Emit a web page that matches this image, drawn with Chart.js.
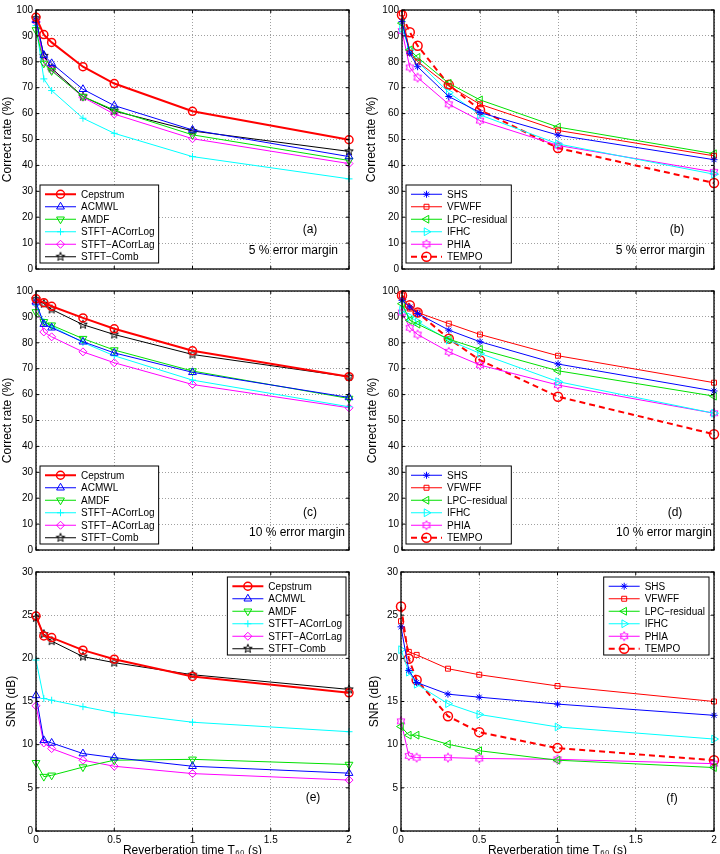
<!DOCTYPE html>
<html>
<head>
<meta charset="utf-8">
<script src="https://cdn.jsdelivr.net/npm/chart.js@4.4.1/dist/chart.umd.min.js"></script>
<style>
  html, body { margin: 0; padding: 0; background: #fff; width: 720px; height: 854px; overflow: hidden; }
  canvas { position: absolute; }
</style>
</head>
<body>
<canvas id="pa" style="left:0;top:0" width="360" height="285"></canvas>
<canvas id="pb" style="left:360px;top:0" width="360" height="285"></canvas>
<canvas id="pc" style="left:0;top:281px" width="360" height="285"></canvas>
<canvas id="pd" style="left:360px;top:281px" width="360" height="285"></canvas>
<canvas id="pe" style="left:0;top:562px" width="360" height="300"></canvas>
<canvas id="pf" style="left:360px;top:562px" width="360" height="300"></canvas>
<script>
// Reverberation time T60 (s), shared by every panel
const rt = [0, 0.05, 0.1, 0.3, 0.5, 1, 2];

const leftNames = ["Cepstrum", "ACMWL", "AMDF", "STFT\u2212ACorrLog", "STFT\u2212ACorrLag", "STFT\u2212Comb"];
const rightNames = ["SHS", "VFWFF", "LPC\u2212residual", "IFHC", "PHIA", "TEMPO"];

// (a) correct rate, 5 % error margin
const cepA = [97.2, 90.5, 87.5, 78.1, 71.6, 60.9, 49.9];
const acmA = [96.0, 82.6, 79.4, 69.4, 63.1, 53.7, 43.4];
const amdA = [92.3, 79.4, 76.5, 66.6, 61.4, 51.8, 41.9];
const logA = [94.0, 73.4, 68.9, 58.2, 52.4, 43.4, 34.8];
const lagA = [95.5, 80.0, 76.9, 66.3, 59.8, 50.3, 40.7];
const combA = [96.8, 82.3, 77.5, 66.6, 61.0, 53.3, 45.4];

// (b) correct rate, 5 % error margin
const shsB = [95.5, 83.3, 78.1, 66.6, 60.4, 51.7, 42.2];
const vfwB = [98.7, 83.5, 80.1, 70.7, 63.6, 53.5, 43.7];
const lpcB = [94.9, 84.6, 81.7, 71.7, 65.3, 54.8, 44.5];
const ifhB = [92.9, 84.6, 80.1, 68.1, 59.5, 48.3, 36.6];
const phiB = [91.9, 77.8, 73.9, 63.6, 57.3, 47.7, 37.5];
const tmpB = [98.1, 91.4, 86.2, 71.1, 61.4, 46.7, 33.2];

// (c) correct rate, 10 % error margin
const cepC = [97.0, 95.5, 94.1, 89.6, 85.4, 76.9, 66.9];
const acmC = [95.8, 87.2, 85.8, 80.4, 76.1, 68.6, 58.9];
const amdC = [91.9, 88.1, 86.8, 81.6, 77.2, 69.1, 58.5];
const logC = [94.5, 88.1, 86.4, 80.1, 75.0, 65.6, 55.3];
const lagC = [95.1, 84.2, 82.3, 76.5, 72.3, 63.9, 54.9];
const combC = [96.8, 95.1, 92.9, 87.0, 83.2, 75.5, 66.9];

// (d) correct rate, 10 % error margin
const shsD = [96.4, 93.8, 91.3, 84.9, 80.4, 71.8, 61.4];
const vfwD = [98.3, 93.2, 91.7, 87.4, 83.2, 75.0, 64.6];
const lpcD = [95.1, 88.7, 87.2, 81.4, 77.5, 69.2, 59.4];
const ifhD = [92.6, 90.0, 88.1, 81.0, 75.9, 65.0, 52.8];
const phiD = [91.7, 85.8, 83.2, 76.5, 71.4, 63.7, 52.8];
const tmpD = [98.3, 94.5, 91.7, 81.6, 73.3, 59.2, 44.7];

// (e) SNR (dB)
const cepE = [24.9, 22.6, 22.4, 20.95, 19.9, 17.9, 16.0];
const acmE = [15.7, 10.5, 10.2, 8.97, 8.5, 7.5, 6.7];
const amdE = [7.9, 6.3, 6.45, 7.4, 8.2, 8.3, 7.7];
const logE = [19.8, 15.35, 15.15, 14.4, 13.7, 12.6, 11.5];
const lagE = [14.5, 10.2, 9.55, 8.2, 7.5, 6.65, 5.9];
const combE = [24.7, 22.8, 22.0, 20.2, 19.5, 18.1, 16.4];

// (f) SNR (dB)
const shsF = [23.65, 18.6, 17.2, 15.85, 15.5, 14.7, 13.4];
const vfwF = [24.3, 20.75, 20.4, 18.8, 18.1, 16.8, 15.0];
const lpcF = [12.1, 11.1, 11.1, 10.05, 9.3, 8.2, 7.35];
const ifhF = [21.0, 18.4, 17.0, 14.75, 13.5, 12.05, 10.65];
const phiF = [12.7, 8.7, 8.5, 8.5, 8.4, 8.3, 7.8];
const tmpF = [26.0, 19.95, 17.5, 13.3, 11.45, 9.6, 8.2];

Chart.defaults.font.family = '"Liberation Sans", Arial, sans-serif';
Chart.defaults.color = "#000";

const RED = "#ff0000", BLUE = "#0000ff", GREEN = "#00e000", CYAN = "#00ffff", MAGENTA = "#ff00ff", BLACK = "#000000";

// outline star markers (pentagram / hexagram) as small canvases
function starMarker(n, inner, color, r) {
  const c = document.createElement("canvas");
  const s = Math.ceil(r * 2 + 3);
  c.width = s; c.height = s;
  const g = c.getContext("2d");
  g.strokeStyle = color;
  g.lineWidth = 1;
  g.beginPath();
  for (let i = 0; i < 2 * n; i++) {
    const rr = i % 2 ? r * inner : r;
    const ang = -Math.PI / 2 + i * Math.PI / n;
    const px = s / 2 + rr * Math.cos(ang), py = s / 2 + rr * Math.sin(ang);
    if (i === 0) g.moveTo(px, py); else g.lineTo(px, py);
  }
  g.closePath();
  g.stroke();
  return c;
}
const pentagram = starMarker(5, 0.42, BLACK, 4.5);
const hexagram = starMarker(6, 0.58, MAGENTA, 4.5);

const leftStyles = [
  { color: RED, width: 2, point: "circle", radius: 4, pw: 1.5 },
  { color: BLUE, width: 1, point: "triangle", radius: 4.5, pw: 1 },
  { color: GREEN, width: 1, point: "triangle", rot: 180, radius: 4.5, pw: 1 },
  { color: CYAN, width: 1, point: "cross", radius: 3.5, pw: 1 },
  { color: MAGENTA, width: 1, point: "rectRot", radius: 4, pw: 1 },
  { color: BLACK, width: 1, point: pentagram, radius: 4.5, pw: 1 }
];
const rightStyles = [
  { color: BLUE, width: 1, point: "star", radius: 3.5, pw: 1 },
  { color: RED, width: 1, point: "rect", radius: 3.5, pw: 1 },
  { color: GREEN, width: 1, point: "triangle", rot: 270, radius: 4.5, pw: 1 },
  { color: CYAN, width: 1, point: "triangle", rot: 90, radius: 4.5, pw: 1 },
  { color: MAGENTA, width: 1, point: hexagram, radius: 4.5, pw: 1 },
  { color: RED, width: 2, point: "circle", radius: 4.5, pw: 1.5, dash: [6, 4] }
];

function buildSets(names, styles, series) {
  return series.map((vals, i) => {
    const st = styles[i];
    return {
      label: names[i],
      data: rt.map((x, k) => ({ x: x, y: vals[k] })),
      borderColor: st.color,
      borderWidth: st.width,
      borderDash: st.dash || [],
      pointStyle: st.point,
      pointRotation: st.rot || 0,
      pointRadius: st.radius,
      pointBorderWidth: st.pw,
      pointBorderColor: st.color,
      pointBackgroundColor: "rgba(0,0,0,0)",
      tension: 0,
      fill: false,
      clip: false
    };
  });
}

// box, inward ticks, legend and panel notes
const panelDecor = {
  id: "panelDecor",
  afterDatasetsDraw(chart, args, o) {
    const ctx = chart.ctx, a = chart.chartArea;
    const xs = chart.scales.x, ys = chart.scales.y;
    ctx.save();
    ctx.setLineDash([]);
    ctx.strokeStyle = "#000";
    ctx.lineWidth = 1;
    ctx.beginPath();
    xs.ticks.forEach(t => {
      const px = xs.getPixelForValue(t.value);
      ctx.moveTo(px, a.bottom); ctx.lineTo(px, a.bottom - 3);
      ctx.moveTo(px, a.top); ctx.lineTo(px, a.top + 3);
    });
    ys.ticks.forEach(t => {
      const py = ys.getPixelForValue(t.value);
      ctx.moveTo(a.left, py); ctx.lineTo(a.left + 3, py);
      ctx.moveTo(a.right, py); ctx.lineTo(a.right - 3, py);
    });
    ctx.stroke();
    ctx.lineWidth = 1.3;
    ctx.strokeRect(a.left, a.top, a.right - a.left, a.bottom - a.top);

    // legend
    const sets = chart.data.datasets;
    ctx.font = '10px "Liberation Sans", Arial, sans-serif';
    const tw = Math.max(...sets.map(d => ctx.measureText(d.label).width));
    const w = tw + 45, rowH = 12.5, h = sets.length * rowH + 3;
    let bx, by;
    if (o.legend === "bl") { bx = a.left + 4; by = a.bottom - 6 - h; }
    else { bx = a.right - o.legendRight - w; by = a.top + 5; }
    ctx.fillStyle = "#fff";
    ctx.fillRect(bx, by, w, h);
    ctx.lineWidth = 1;
    ctx.strokeStyle = "#000";
    ctx.strokeRect(bx, by, w, h);
    sets.forEach((d, i) => {
      const cy = by + 3 + rowH * (i + 0.5);
      ctx.strokeStyle = d.borderColor;
      ctx.lineWidth = d.borderWidth;
      ctx.setLineDash(d.borderDash);
      ctx.beginPath();
      ctx.moveTo(bx + 5, cy); ctx.lineTo(bx + 36, cy);
      ctx.stroke();
      ctx.setLineDash([]);
      ctx.lineWidth = d.pointBorderWidth;
      ctx.fillStyle = "rgba(0,0,0,0)";
      Chart.helpers.drawPoint(ctx, {
        pointStyle: d.pointStyle, rotation: d.pointRotation,
        radius: d.pointRadius, borderWidth: d.pointBorderWidth
      }, bx + 20.5, cy);
      ctx.fillStyle = "#000";
      ctx.textAlign = "left";
      ctx.textBaseline = "middle";
      ctx.fillText(d.label, bx + 41, cy + 0.5);
    });

    // panel tag and note
    ctx.font = '12px "Liberation Sans", Arial, sans-serif';
    ctx.fillStyle = "#000";
    ctx.textBaseline = "middle";
    ctx.textAlign = "center";
    ctx.fillText(o.tag, a.right + o.tagDx, a.bottom + o.tagDy);
    if (o.note) {
      ctx.textAlign = "right";
      ctx.fillText(o.note, a.right + o.noteDx, a.bottom + o.noteDy);
    }
    ctx.restore();
  }
};

function makePanel(id, p) {
  new Chart(document.getElementById(id), {
    type: "line",
    data: { datasets: p.sets },
    plugins: [panelDecor],
    options: {
      responsive: false,
      animation: false,
      events: [],
      layout: { padding: { top: 10, right: p.padRight, left: 0, bottom: 0 } },
      plugins: {
        legend: { display: false },
        tooltip: { enabled: false },
        panelDecor: p.decor
      },
      scales: {
        x: {
          type: "linear", min: 0, max: 2,
          ticks: { display: p.xLabels, stepSize: 0.5, padding: 3, maxRotation: 0, font: { size: 10 }, callback: v => String(v) },
          grid: { color: "#a0a0a0", drawTicks: false, lineWidth: 1 },
          border: { display: false, dash: [1, 2] },
          title: { display: p.xLabels, text: "Reverberation time T\u2086\u2080 (s)", font: { size: 12 }, padding: { top: 0, bottom: 3.8 } },
          afterFit: s => { s.height = p.xHeight; }
        },
        y: {
          min: 0, max: p.yMax,
          ticks: { stepSize: p.yStep, padding: 3, font: { size: 10 }, callback: v => String(v) },
          grid: { color: "#a0a0a0", drawTicks: false, lineWidth: 1 },
          border: { display: false, dash: [1, 2] },
          title: { display: true, text: p.yTitle, font: { size: 12 }, padding: { top: p.yTitlePad, bottom: 0 } },
          afterFit: s => { s.width = p.yWidth; }
        }
      }
    }
  });
}

const rateTitle = "Correct rate (%)";
const snrTitle = "SNR (dB)";

makePanel("pa", {
  sets: buildSets(leftNames, leftStyles, [cepA, acmA, amdA, logA, lagA, combA]),
  yMax: 100, yStep: 10, yTitle: rateTitle, yTitlePad: 0.8, yWidth: 36, padRight: 11, xHeight: 16, xLabels: false,
  decor: { legend: "bl", tag: "(a)", tagDx: -39, tagDy: -39, note: "5 % error margin", noteDx: -11, noteDy: -18 }
});
makePanel("pb", {
  sets: buildSets(rightNames, rightStyles, [shsB, vfwB, lpcB, ifhB, phiB, tmpB]),
  yMax: 100, yStep: 10, yTitle: rateTitle, yTitlePad: 4, yWidth: 42, padRight: 6, xHeight: 16, xLabels: false,
  decor: { legend: "bl", tag: "(b)", tagDx: -37, tagDy: -39, note: "5 % error margin", noteDx: -9, noteDy: -18 }
});
makePanel("pc", {
  sets: buildSets(leftNames, leftStyles, [cepC, acmC, amdC, logC, lagC, combC]),
  yMax: 100, yStep: 10, yTitle: rateTitle, yTitlePad: 0, yWidth: 36, padRight: 11, xHeight: 16, xLabels: false,
  decor: { legend: "bl", tag: "(c)", tagDx: -39, tagDy: -37, note: "10 % error margin", noteDx: -4, noteDy: -17 }
});
makePanel("pd", {
  sets: buildSets(rightNames, rightStyles, [shsD, vfwD, lpcD, ifhD, phiD, tmpD]),
  yMax: 100, yStep: 10, yTitle: rateTitle, yTitlePad: 5.5, yWidth: 42, padRight: 6, xHeight: 16, xLabels: false,
  decor: { legend: "bl", tag: "(d)", tagDx: -39, tagDy: -37, note: "10 % error margin", noteDx: -2, noteDy: -17 }
});
makePanel("pe", {
  sets: buildSets(leftNames, leftStyles, [cepE, acmE, amdE, logE, lagE, combE]),
  yMax: 30, yStep: 5, yTitle: snrTitle, yTitlePad: 4.5, yWidth: 36, padRight: 11, xHeight: 31, xLabels: true,
  decor: { legend: "tr", legendRight: 3, tag: "(e)", tagDx: -36, tagDy: -33 }
});
makePanel("pf", {
  sets: buildSets(rightNames, rightStyles, [shsF, vfwF, lpcF, ifhF, phiF, tmpF]),
  yMax: 30, yStep: 5, yTitle: snrTitle, yTitlePad: 7.8, yWidth: 41, padRight: 6, xHeight: 31, xLabels: true,
  decor: { legend: "tr", legendRight: 5, tag: "(f)", tagDx: -42, tagDy: -32 }
});
</script>
</body>
</html>
